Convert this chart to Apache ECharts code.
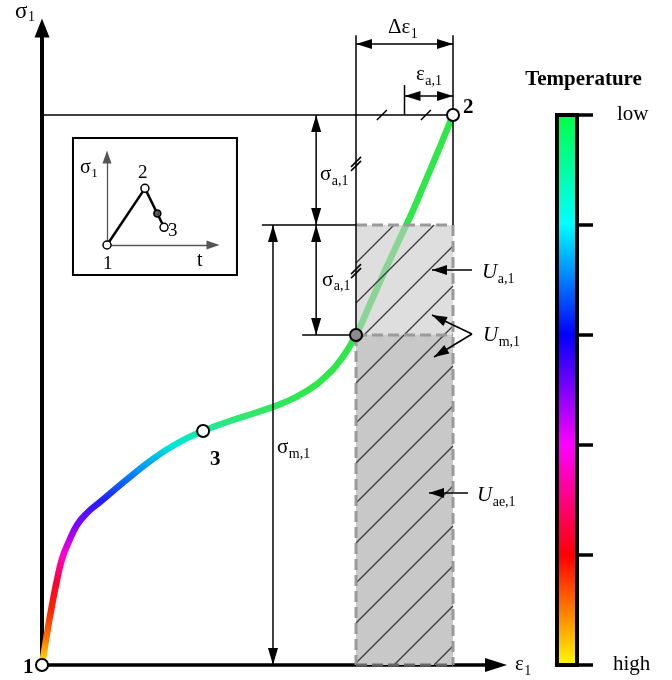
<!DOCTYPE html>
<html><head><meta charset="utf-8">
<script src="https://cdn.jsdelivr.net/npm/echarts@6/dist/echarts.min.js"></script>
<style>html,body{margin:0;padding:0;background:#fff}#c{width:672px;height:680px}</style>
</head><body><div id="c"></div>
<script>
// ---------------- data (normalised: point 2 = (1,1)) ----------------
const curveStrain = [0,0.0085,0.0170,0.0268,0.0365,0.0487,0.0640,0.0852,0.1095,0.1411,0.2019,0.2628,0.3260,0.392,0.4574,0.5255,0.5864,0.6399,0.6886,0.7299,0.764,0.798,0.835,0.871,0.903,0.934,0.968,1.0];
const curveStress = [0,0.0400,0.0782,0.1182,0.1545,0.1927,0.2220,0.2545,0.2764,0.2964,0.3345,0.3709,0.4018,0.4255,0.4436,0.460,0.4764,0.4964,0.5236,0.5582,0.600,0.656,0.718,0.776,0.827,0.882,0.942,1.0];
const keyPointLabels = ['1','2','3'];
const keyStrain = [0, 1.0, 0.392];
const keyStress = [0, 1.0, 0.4255];
const cycleStartStrain = 0.764;   // ε at σ_min of the cycle
const cycleMinStress = 0.6;
const meanStress = 0.8;
const peakStress = 1.0;
const peakStrain = 1.0;
const insetLabels = ['1','2','3'];
const insetTime = [0, 0.358, 0.538];
const insetStress = [0, 0.644, 0.201];
const insetMarker = [0.475, 0.359];
const tempTicks = [0, 0.2, 0.4, 0.6, 0.8, 1.0];
const tempTickLabels = ['high', 'low'];
const tempColors = ['#ffff00','#ff0000','#ff00ff','#0000ff','#00ffff','#00ff40']; // high -> low
const curveColors = ['#ffe800','#ff7000','#ff2200','#ff0030','#ff00d0','#8a00ff','#2020ff','#0088ff','#00e8d8','#30e870',
  '#2ee84a','#2ee84a','#2ee84a','#2ee84a','#2ee84a','#2ee84a','#2ee84a','#2ee84a','#2ee84a','#2ee84a','#2ee84a'];

// ---------------- helpers ----------------
const SERIF = "'Liberation Serif','Times New Roman',serif";
const mctx = document.createElement('canvas').getContext('2d');
function textW(t, size, weight, style){ mctx.font = (style||'normal')+' '+(weight||'normal')+' '+size+'px '+SERIF; return mctx.measureText(t).width; }
function addLabel(ch, p, main, sub, o){
  o = o || {};
  const size = o.size || 21, subSize = o.subSize || 14;
  const fw = o.bold ? 'bold' : 'normal', fs = o.italic ? 'italic' : 'normal';
  ch.push({type:'text', x:p[0], y:p[1]-0.34*size, style:{text:main, fontSize:size, fontFamily:SERIF, fontWeight:fw, fontStyle:fs, fill:'#000', align:o.align||'left', verticalAlign:'middle'}});
  if (sub){
    const w = textW(main, size, fw, fs);
    ch.push({type:'text', x:p[0]+w+(o.subGap||0.5), y:p[1]+(o.subDrop||4)-0.34*subSize, style:{text:sub, fontSize:subSize, fontFamily:SERIF, fill:'#000', align:'left', verticalAlign:'middle'}});
  }
}
function seg(ch, a, b, w, color, dash){
  ch.push({type:'line', shape:{x1:a[0],y1:a[1],x2:b[0],y2:b[1]}, style:{stroke:color||'#000', lineWidth:w||1.5, lineDash:dash||null}});
}
function head(ch, tip, from, len, wid){
  len = len || 16; wid = wid || 10;
  const dx = tip[0]-from[0], dy = tip[1]-from[1], L = Math.hypot(dx,dy) || 1;
  const ux = dx/L, uy = dy/L, bx = tip[0]-ux*len, by = tip[1]-uy*len;
  ch.push({type:'polygon', shape:{points:[[tip[0],tip[1]],[bx-uy*wid/2,by+ux*wid/2],[bx+uy*wid/2,by-ux*wid/2]]}, style:{fill:'#000'}});
}
function arrow(ch, from, tip){ seg(ch, from, tip); head(ch, tip, from, 15, 10); }
function dbl(ch, a, b, len, wid){ seg(ch, a, b); head(ch, a, b, len, wid); head(ch, b, a, len, wid); }

// ---------------- layers ----------------
function renderRects(params, api){
  const P = (x,y) => api.coord([x,y]);
  const ch = [];
  const x0 = P(cycleStartStrain,0)[0], x1 = P(peakStrain,0)[0];
  const yT = P(0,meanStress)[1], yM = P(0,cycleMinStress)[1], yB = P(0,0)[1];
  ch.push({type:'rect', shape:{x:x0,y:yM,width:x1-x0,height:yB-yM}, style:{fill:'#c8c8c8'}});
  ch.push({type:'rect', shape:{x:x0,y:yT,width:x1-x0,height:yM-yT}, style:{fill:'rgba(200,200,200,0.6)'}});
  for (let c = x0 + yB - 2 + 40*3; c > x0 + yT; c -= 40){
    const xs = Math.max(x0, c - yB), xe = Math.min(x1, c - yT);
    if (xe > xs + 1) seg(ch, [xs, c-xs], [xe, c-xe], 1.2, '#3a3a3a');
  }
  const dc = '#9a9a9a', dd = [11,5];
  seg(ch, [x0,yT], [x1,yT], 3, dc, dd);
  seg(ch, [x1,yT], [x1,yB], 3, dc, dd);
  seg(ch, [x0,yM], [x1,yM], 3, dc, dd);
  seg(ch, [x0,yM], [x0,yB], 3, dc, dd);
  seg(ch, [x0,yB], [x1,yB], 3, '#666', dd);
  return {type:'group', children:ch};
}

function renderAnnot(params, api){
  const P = (x,y) => api.coord([x,y]);
  const ch = [];
  const eMin = cycleStartStrain, eA = (peakStrain + cycleStartStrain)/2;
  // reference lines
  seg(ch, P(0,peakStress), P(peakStrain,peakStress));
  seg(ch, P(eMin,1.145), P(eMin,cycleMinStress));
  seg(ch, P(peakStrain,1.145), P(peakStrain,meanStress));
  seg(ch, P(0.535,meanStress), P(eMin,meanStress));
  seg(ch, P(0.633,cycleMinStress), P(eMin,cycleMinStress));
  seg(ch, P(eA,1.0545), P(eA,peakStress));
  // dimension arrows
  dbl(ch, P(eMin,1.129), P(peakStrain,1.129), 16, 10);
  dbl(ch, P(eA,1.0345), P(peakStrain,1.0345), 16, 10);
  dbl(ch, P(0.667,peakStress), P(0.667,meanStress), 17, 10);
  dbl(ch, P(0.667,meanStress), P(0.667,cycleMinStress), 17, 10);
  dbl(ch, P(0.562,meanStress), P(0.562,0), 17, 10);
  // break marks
  [0.827, 0.934].forEach(x => { const p = P(x,peakStress); seg(ch, [p[0]-5,p[1]+5], [p[0]+5,p[1]-5]); });
  [0.913, 0.718].forEach(y => { const p = P(eMin,y);
    seg(ch, [p[0]-5,p[1]+4], [p[0]+5,p[1]-6]); seg(ch, [p[0]-5,p[1]+8], [p[0]+5,p[1]-2]); });
  // energy arrows
  arrow(ch, P(1.0462,0.7182), P(0.9489,0.7182));
  arrow(ch, P(1.0462,0.6018), P(0.9489,0.6364));
  arrow(ch, P(1.0462,0.6018), P(0.9538,0.560));
  arrow(ch, P(1.0365,0.3127), P(0.9416,0.3127));
  // labels
  addLabel(ch, P(-0.0657,1.1736), 'σ', '1', {size:23, subSize:14, subDrop:3});
  addLabel(ch, P(1.1509,-0.0127), 'ε', '1', {subDrop:4});
  addLabel(ch, P(0.8418,1.1455), 'Δε', '1');
  addLabel(ch, P(0.910,1.060), 'ε', 'a,1');
  addLabel(ch, P(0.6764,0.878), 'σ', 'a,1');
  addLabel(ch, P(0.681,0.687), 'σ', 'a,1');
  addLabel(ch, P(0.5718,0.3818), 'σ', 'm,1');
  addLabel(ch, P(1.0706,0.700), 'U', 'a,1', {italic:true});
  addLabel(ch, P(1.073,0.5855), 'U', 'm,1', {italic:true});
  addLabel(ch, P(1.0584,0.2945), 'U', 'ae,1', {italic:true});
  addLabel(ch, P(-0.0462,-0.0182), keyPointLabels[0], null, {bold:true});
  addLabel(ch, P(1.0243,1.0), keyPointLabels[1], null, {bold:true});
  addLabel(ch, P(0.4088,0.36), keyPointLabels[2], null, {bold:true});
  // colour bar
  const cb0 = P(1.253, tempTicks[tempTicks.length-1]), cb1 = P(1.3017, tempTicks[0]);
  const stops = tempColors.map((c,i) => ({offset: 1 - i/(tempColors.length-1), color:c}));
  ch.push({type:'rect', shape:{x:cb0[0], y:cb0[1], width:cb1[0]-cb0[0], height:cb1[1]-cb0[1]},
    style:{fill:{type:'linear', x:0, y:0, x2:0, y2:1, colorStops:stops.slice().reverse()}, stroke:'#000', lineWidth:4}});
  tempTicks.forEach(t => seg(ch, P(1.3017,t), P(1.3406,t), 3.5));
  addLabel(ch, P(1.3175,1.0509), 'Temperature', null, {bold:true, align:'center'});
  addLabel(ch, P(1.399,0.9873), tempTickLabels[1]);
  addLabel(ch, P(1.3893,-0.0127), tempTickLabels[0]);
  return {type:'group', children:ch};
}

function renderInset(params, api){
  const P = (x,y) => api.coord([x,y]);
  const ch = [];
  const a = P(-0.321,1.216), b = P(1.226,-0.341);
  ch.push({type:'rect', shape:{x:a[0], y:a[1], width:b[0]-a[0], height:b[1]-a[1]}, style:{fill:'none', stroke:'#000', lineWidth:2}});
  addLabel(ch, P(-0.255,0.795), 'σ', '1', {size:20, subSize:13, subDrop:3});
  addLabel(ch, P(0.292,0.739), insetLabels[1], null, {size:19});
  addLabel(ch, P(0.575,0.091), insetLabels[2], null, {size:19});
  addLabel(ch, P(-0.038,-0.284), insetLabels[0], null, {size:19});
  addLabel(ch, P(0.849,-0.261), 't', null, {size:20});
  return {type:'group', children:ch};
}

// ---------------- chart ----------------
const chart = echarts.init(document.getElementById('c'), null, {renderer:'canvas'});
const hiddenAxisBits = {axisTick:{show:false}, axisLabel:{show:false}, splitLine:{show:false}};
chart.setOption({
  animation:false,
  backgroundColor:'#fff',
  grid:[
    {left:42, top:28, width:454, height:637, outerBoundsMode:'none'},
    {left:107, top:157, width:106, height:88, outerBoundsMode:'none'}
  ],
  xAxis:[
    Object.assign({type:'value', gridIndex:0, min:0, max:1.1046,
      axisLine:{show:true, symbol:['none','triangle'], symbolSize:[14,22], lineStyle:{color:'#000', width:3.5}}}, hiddenAxisBits),
    Object.assign({type:'value', gridIndex:1, min:0, max:1,
      axisLine:{show:true, symbol:['none','triangle'], symbolSize:[9,13], lineStyle:{color:'#555', width:1.3}}}, hiddenAxisBits)
  ],
  yAxis:[
    Object.assign({type:'value', gridIndex:0, min:0, max:1.1582,
      axisLine:{show:true, symbol:['none','triangle'], symbolSize:[15,19], lineStyle:{color:'#000', width:4}}}, hiddenAxisBits),
    Object.assign({type:'value', gridIndex:1, min:0, max:1,
      axisLine:{show:true, symbol:['none','triangle'], symbolSize:[9,13], lineStyle:{color:'#555', width:1.3}}}, hiddenAxisBits)
  ],
  visualMap:{show:false, type:'continuous', seriesIndex:0, dimension:1, min:0, max:1, inRange:{color:curveColors}},
  series:[
    {type:'line', xAxisIndex:0, yAxisIndex:0, z:2, smooth:0.5, showSymbol:false, silent:true,
      data:curveStrain.map((x,i)=>[x, curveStress[i]]), lineStyle:{width:6.5, cap:'round'}},
    {type:'custom', xAxisIndex:0, yAxisIndex:0, z:3, silent:true, data:[[0,0]], renderItem:renderRects},
    {type:'custom', xAxisIndex:0, yAxisIndex:0, z:5, silent:true, data:[[0,0]], renderItem:renderAnnot},
    {type:'scatter', xAxisIndex:0, yAxisIndex:0, z:6, silent:true, symbolSize:12,
      data:keyStrain.map((x,i)=>[x, keyStress[i]]), itemStyle:{color:'#fff', borderColor:'#000', borderWidth:2, opacity:1}},
    {type:'scatter', xAxisIndex:0, yAxisIndex:0, z:6, silent:true, symbolSize:12,
      data:[[cycleStartStrain, cycleMinStress]], itemStyle:{color:'#8c8c8c', borderColor:'#000', borderWidth:2, opacity:1}},
    {type:'line', xAxisIndex:1, yAxisIndex:1, z:4, silent:true, symbol:'circle', symbolSize:8, showSymbol:true,
      data:insetTime.map((x,i)=>[x, insetStress[i]]), lineStyle:{color:'#000', width:2.5},
      itemStyle:{color:'#fff', borderColor:'#000', borderWidth:1.5}},
    {type:'scatter', xAxisIndex:1, yAxisIndex:1, z:5, silent:true, symbolSize:7,
      data:[insetMarker], itemStyle:{color:'#555', borderColor:'#000', borderWidth:1.5, opacity:1}},
    {type:'custom', xAxisIndex:1, yAxisIndex:1, z:5, silent:true, data:[[0,0]], renderItem:renderInset}
  ]
});
</script></body></html>
